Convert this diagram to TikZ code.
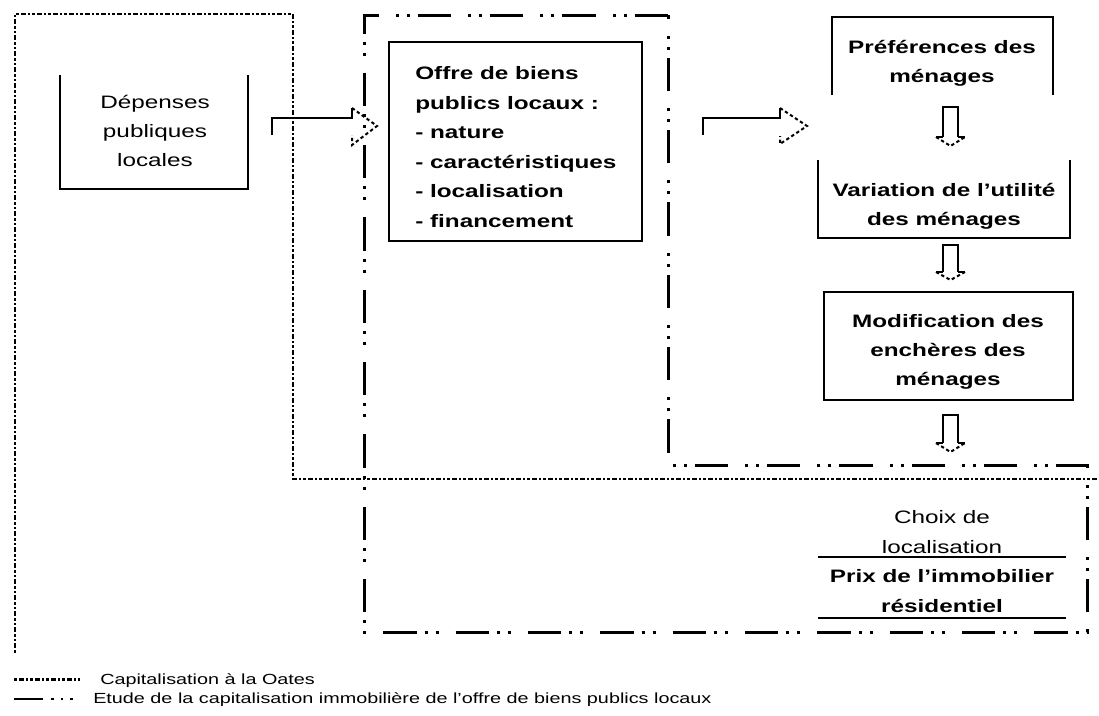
\documentclass[tikz,border=0pt]{standalone}
\usepackage{fontspec}
\setmainfont[FakeStretch=1.35]{Liberation Sans}
\begin{document}
\begin{tikzpicture}[x=0.75pt,y=-0.75pt]
\tikzset{
 boxline/.style={line width=1.5pt},
 txt/.style={inner sep=0pt, align=center, font=\fontsize{13.5pt}{22pt}\selectfont},
 btxt/.style={inner sep=0pt, align=center, font=\bfseries\fontsize{13.5pt}{22pt}\selectfont},
 oates/.style={line width=1.8pt, dash pattern=on 2.25pt off 1.5pt on 3.75pt off 1.5pt on 1.5pt off 1.5pt},
 study/.style={line width=2.25pt, dash pattern=on 25pt off 6pt on 2.25pt off 6pt on 2.25pt off 12.75pt},
 shaft/.style={line width=1.5pt},
 head/.style={line width=1.5pt, dash pattern=on 2.5pt off 2pt},
 legtxt/.style={inner sep=0pt, anchor=west, font=\fontsize{11pt}{12pt}\selectfont},
}
\useasboundingbox (0,0) rectangle (1099,715);

% regions
\coordinate (o1) at (15,653);
\coordinate (o2) at (15,14);
\coordinate (o3) at (293,14);
\coordinate (o4) at (293,479);
\coordinate (o5) at (1097,479);
\draw[oates] (o1) -- (o2) -- (o3) -- (o4) -- (o5);

\coordinate (s1) at (668,465);
\coordinate (s2) at (1087,465);
\coordinate (s3) at (1087,632);
\coordinate (s4) at (364,632);
\coordinate (s5) at (364,15);
\coordinate (s6) at (668,15);
\draw[study] (s6) -- (s5) -- (s4) -- (s3) -- (s2) -- (s1) -- cycle;

% boxes
\draw[boxline] (60,75) -- (60,189) -- (248,189) -- (248,75);
\node[txt] (dep) at (155,131) {Dépenses\\publiques\\locales};

\draw[boxline] (389,42) rectangle (642,241);
\node[inner sep=0pt, align=left, anchor=west, font=\bfseries\fontsize{13.5pt}{22.2pt}\selectfont] (offre) at (415,147)
 {Offre de biens\\publics locaux :\\- nature\\- caractéristiques\\- localisation\\- financement};

\draw[boxline] (832,95) -- (832,17) -- (1053,17) -- (1053,95);
\node[btxt] (pref) at (942,63) {Préférences des\\ménages};

\draw[boxline] (818,160) -- (818,238) -- (1070,238) -- (1070,160);
\node[btxt] (var) at (944,206) {Variation de l'utilité\\des ménages};

\draw[boxline] (824,292) rectangle (1073,400);
\node[btxt] (modif) at (948,352) {Modification des\\enchères des\\ménages};

\node[txt] (choix) at (942,532) {Choix de\\localisation};
\draw[boxline] (818,557) -- (1066,557);
\node[btxt] (prix) at (942,591) {Prix de l'immobilier\\résidentiel};
\draw[boxline] (818,618) -- (1066,618);

% hollow arrows (horizontal)
\draw[shaft] (272,135) -- (272,118) -- (352,118) -- (352,108);
\draw[head] (352,108) -- (377,126) -- (352,145) -- (352,135);
\draw[shaft] (703,135) -- (703,118) -- (780,118) -- (780,108);
\draw[head] (780,108) -- (807,126) -- (780,144) -- (780,136);

% hollow arrows (down)
\foreach \t/\h/\p in {107/137/146, 245/272/280, 415/443/452}{
 \draw[shaft] (943,\h) -- (943,\t) -- (958,\t) -- (958,\h);
 \draw[shaft] (936,\h) -- (943,\h) (958,\h) -- (965,\h);
 \draw[head] (936,\h) -- (950.5,\p) -- (965,\h);
}

% legend
\coordinate (l1a) at (14,679);
\coordinate (l1b) at (80,679);
\draw[oates, line width=2.25pt] (l1a) -- (l1b);
\node[legtxt] (leg1) at (100,681) {Capitalisation à la Oates};
\coordinate (l2a) at (14,699);
\coordinate (l2b) at (88,699);
\draw[line width=1.5pt, dash pattern=on 22pt off 6pt on 2pt off 5pt on 2pt off 5pt on 2pt off 20pt] (l2a) -- (l2b);
\node[legtxt] (leg2) at (93,700) {Etude de la capitalisation immobilière de l'offre de biens publics locaux};
\end{tikzpicture}
\end{document}
